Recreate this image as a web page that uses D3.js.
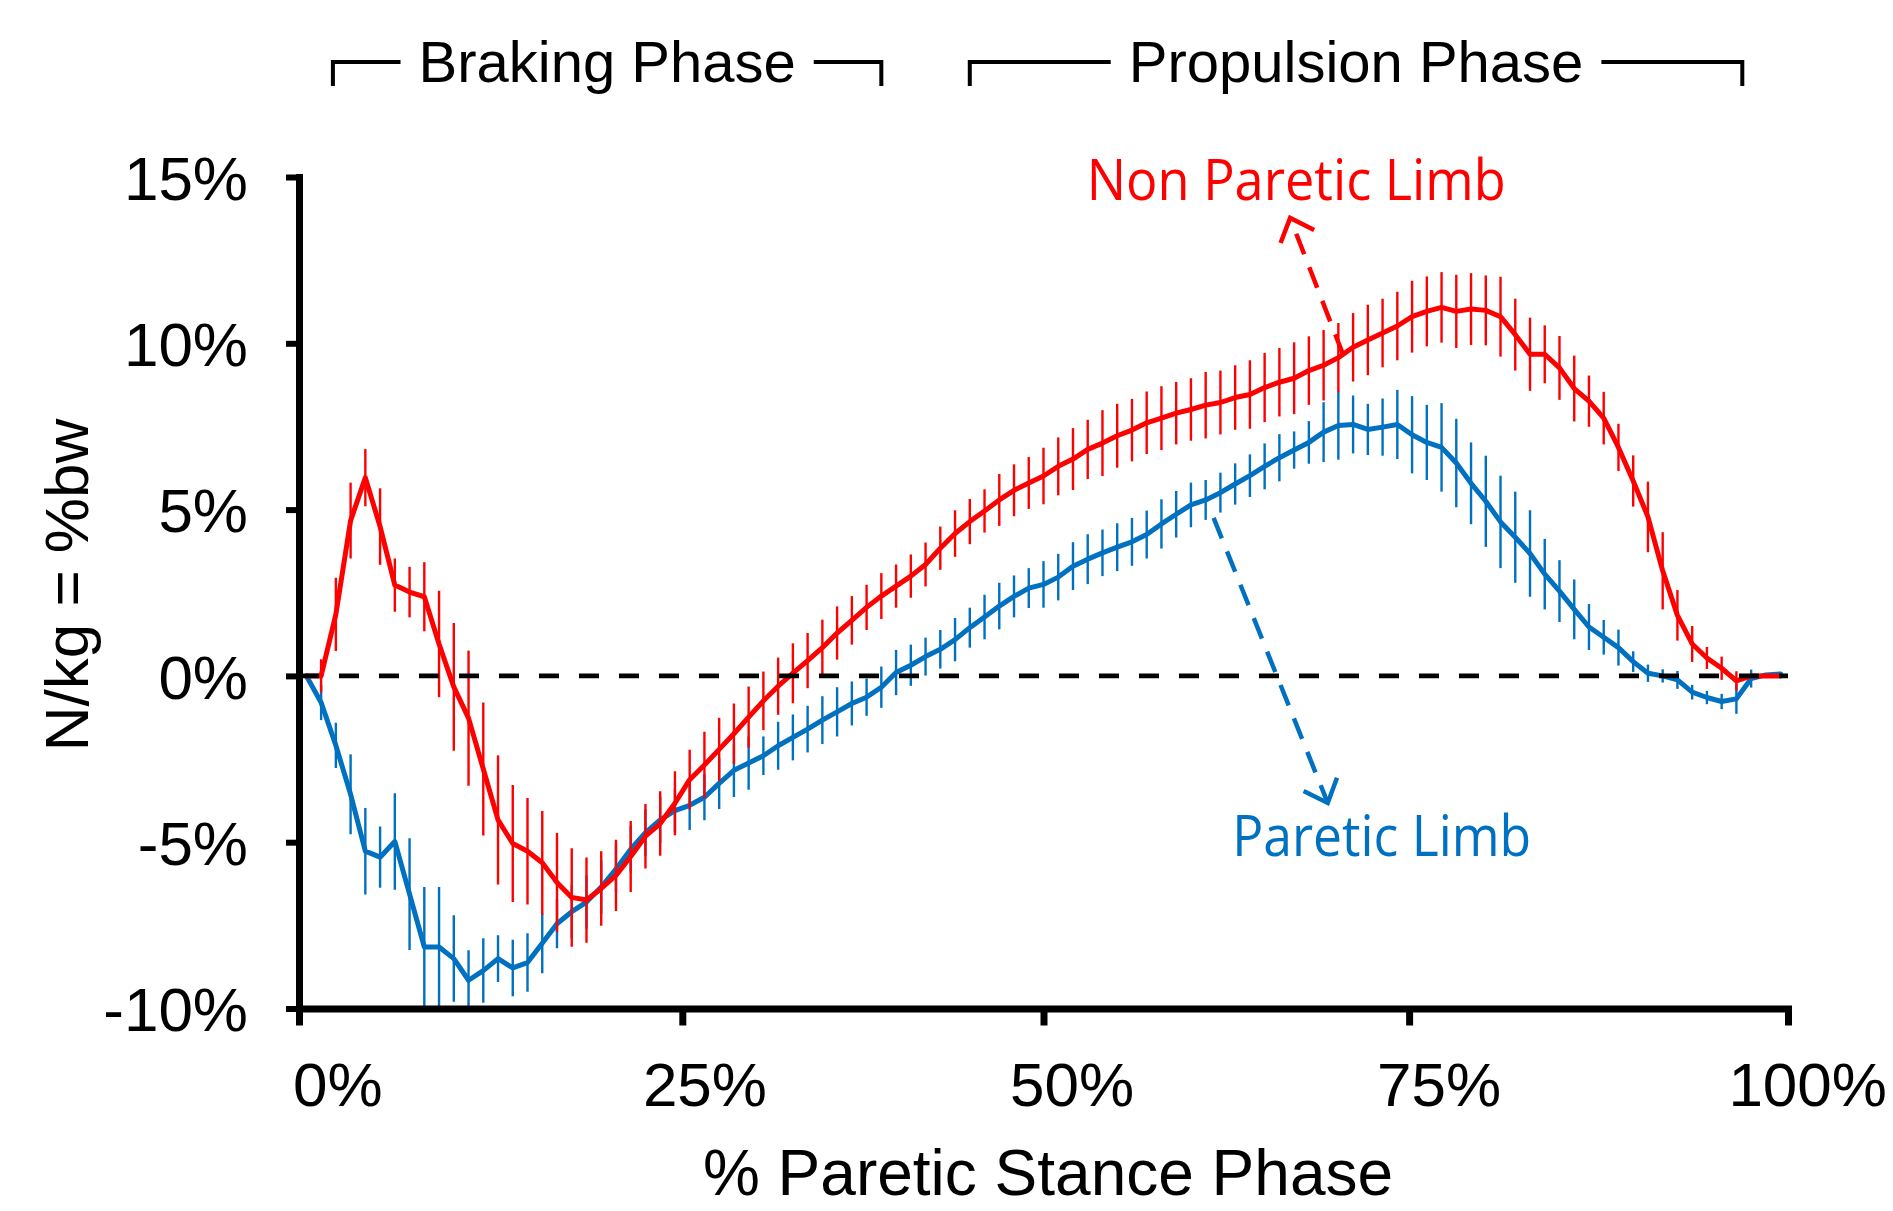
<!DOCTYPE html>
<meta charset="utf-8">
<head>
  <title>Anterior-posterior ground reaction force</title>
</head>

<style>
body {
  margin: 0;
  background: #fff;
}
svg text {
  font-family: "Liberation Sans", Arial, Helvetica, sans-serif;
}
</style>

<body>
  <svg id="chart" width="1893" height="1211"></svg>

  <script src="https://cdnjs.cloudflare.com/ajax/libs/d3/7.8.5/d3.min.js"></script>

  <script>
// DATA (% of paretic stance phase, N/kg = %bw)
var stance = d3.range(0, 101);

var nonParetic = [
  0, 0, 1.85, 4.67, 5.96, 4.49, 2.73, 2.52, 2.38, 0.96,
  -0.33, -1.27, -2.8, -4.33, -5.04, -5.27, -5.62, -6.21, -6.66, -6.74,
  -6.39, -6.0, -5.43, -4.82, -4.44, -3.83, -3.12, -2.68, -2.21, -1.74,
  -1.24, -0.75, -0.31, 0.08, 0.46, 0.85, 1.29, 1.67, 2.06, 2.4,
  2.7, 3.0, 3.35, 3.84, 4.28, 4.64, 4.96, 5.29, 5.58, 5.8,
  6.01, 6.3, 6.52, 6.81, 7.0, 7.22, 7.39, 7.61, 7.75, 7.9,
  8.01, 8.14, 8.22, 8.37, 8.46, 8.67, 8.83, 8.95, 9.18, 9.34,
  9.57, 9.88, 10.1, 10.31, 10.52, 10.8, 10.96, 11.08, 10.96, 11.03,
  10.99, 10.8, 10.26, 9.67, 9.67, 9.26, 8.64, 8.26, 7.75, 6.87,
  5.86, 4.78, 3.16, 1.82, 0.96, 0.54, 0.23, -0.15, 0, 0,
  0
];

var nonPareticSD = [
  0, 0.5, 1.1, 1.14, 0.86, 1.15, 0.8, 0.76, 1.04, 1.6,
  1.92, 2.03, 2.0, 1.94, 1.76, 1.6, 1.56, 1.49, 1.48, 1.28,
  1.12, 1.07, 1.07, 0.97, 0.97, 0.96, 0.9, 1.0, 0.95, 0.91,
  0.92, 0.88, 0.86, 0.9, 0.83, 0.84, 0.8, 0.73, 0.68, 0.69,
  0.65, 0.65, 0.66, 0.65, 0.7, 0.68, 0.65, 0.78, 0.78, 0.78,
  0.85, 0.87, 0.93, 0.89, 0.99, 0.96, 0.94, 0.94, 0.96, 0.94,
  0.94, 1.0, 0.96, 0.97, 1.03, 1.04, 1.03, 1.08, 1.03, 1.06,
  1.04, 1.03, 1.06, 1.03, 1.03, 1.08, 1.05, 1.06, 1.1, 1.08,
  1.05, 1.2, 1.08, 1.1, 0.87, 0.96, 0.99, 0.77, 0.79, 0.71,
  0.77, 1.06, 1.16, 0.76, 0.54, 0.33, 0.35, 0.29, 0, 0,
  0
];

var paretic = [
  0, -0.8, -2.09, -3.56, -5.27, -5.45, -4.98, -6.56, -8.15, -8.15,
  -8.5, -9.15, -8.86, -8.5, -8.78, -8.62, -8.04, -7.45, -7.09, -6.8,
  -6.35, -5.81, -5.21, -4.71, -4.33, -4.05, -3.89, -3.65, -3.23, -2.84,
  -2.62, -2.4, -2.1, -1.85, -1.6, -1.33, -1.08, -0.83, -0.64, -0.34,
  0.1, 0.32, 0.58, 0.8, 1.09, 1.45, 1.77, 2.1, 2.39, 2.64,
  2.75, 2.97, 3.3, 3.51, 3.7, 3.87, 4.03, 4.25, 4.57, 4.86,
  5.14, 5.29, 5.51, 5.77, 6.02, 6.3, 6.56, 6.79, 7.02, 7.33,
  7.53, 7.56, 7.41, 7.48, 7.56, 7.25, 7.02, 6.87, 6.4, 5.79,
  5.25, 4.63, 4.17, 3.68, 3.06, 2.55, 2.0, 1.47, 1.16, 0.85,
  0.43, 0.08, 0.0, -0.12, -0.49, -0.65, -0.77, -0.69, -0.08, 0.03,
  0.06
];

var pareticSD = [
  0, 0.53, 0.68, 1.2, 1.3, 0.92, 1.45, 1.68, 1.8, 1.8,
  1.3, 0.9, 0.97, 0.7, 0.85, 0.88, 0.9, 0.74, 0.8, 0.8,
  0.8, 0.7, 0.7, 0.7, 0.7, 0.66, 0.74, 0.69, 0.77, 0.8,
  0.8, 0.58, 0.72, 0.69, 0.7, 0.72, 0.74, 0.66, 0.56, 0.62,
  0.68, 0.62, 0.57, 0.58, 0.65, 0.6, 0.67, 0.7, 0.63, 0.6,
  0.7, 0.7, 0.72, 0.75, 0.7, 0.72, 0.72, 0.72, 0.74, 0.7,
  0.67, 0.6, 0.6, 0.62, 0.64, 0.69, 0.71, 0.56, 0.64, 0.9,
  1.03, 0.87, 0.77, 0.86, 1.04, 1.16, 1.13, 1.33, 1.33, 1.23,
  1.37, 1.39, 1.37, 1.3, 1.06, 0.93, 0.9, 0.69, 0.52, 0.54,
  0.31, 0.26, 0.2, 0.27, 0.22, 0.2, 0.23, 0.45, 0.27, 0,
  0
];

var yTicks = [-10, -5, 0, 5, 10, 15];
var xTickAt = [-0.5, 25.5, 50, 74.8, 100.5];
var xLabelAt = [2.1, 27, 51.9, 76.8, 101.8];
var xTickLabels = ['0%', '25%', '50%', '75%', '100%'];

var phaseNames = ['Braking Phase', 'Propulsion Phase'];
var phaseStart = [1.8, 45.0];
var phaseEnd = [39.0, 97.4];

var labelText = ['Non Paretic Limb', 'Paretic Limb'];
var labelX = [67.14, 72.94];
var labelY = [14.31, -5.41];
var labelWidth = [419, 299];
var arrowFrom = [[70.33, 9.65], [61.54, 4.75]];
var arrowTo = [[66.73, 13.77], [69.28, -3.82]];

var RED = '#ff0000';
var BLUE = '#0070c0';

// SCALES
var x = d3.scaleLinear().domain([-0.5, 100.5]).range([299, 1788]);
var y = d3.scaleLinear().domain([-10, 15]).range([1008.5, 177]);

var svg = d3.select('#chart');

svg.append('rect')
  .attr('width', 1893)
  .attr('height', 1211)
  .attr('fill', '#fff');

var defs = svg.append('defs');

defs.append('clipPath')
  .attr('id', 'plot-clip')
  .append('rect')
  .attr('x', x(-0.5))
  .attr('y', y(15))
  .attr('width', x(100.5) - x(-0.5))
  .attr('height', y(-10) - y(15));

[RED, BLUE].forEach(function(c, i) {
  defs.append('marker')
    .attr('id', 'chevron' + i)
    .attr('markerUnits', 'userSpaceOnUse')
    .attr('viewBox', '-30 -30 40 60')
    .attr('markerWidth', 40)
    .attr('markerHeight', 60)
    .attr('refX', 0)
    .attr('refY', 0)
    .attr('orient', 'auto')
    .append('path')
    .attr('d', 'M-20,-18L0,0L-20,18')
    .attr('fill', 'none')
    .attr('stroke', c)
    .attr('stroke-width', 4.5)
    .attr('stroke-linejoin', 'miter');
});

var plot = svg.append('g').attr('clip-path', 'url(#plot-clip)');

var line = d3.line()
  .x(function(d) { return x(d[0]); })
  .y(function(d) { return y(d[1]); });

function drawSeries(values, sd, colour) {
  var pts = stance.map(function(s, i) { return [s, values[i], sd[i]]; });

  plot.append('g')
    .selectAll('line')
    .data(pts.filter(function(d) { return d[2] > 0; }))
    .enter()
    .append('line')
    .attr('x1', function(d) { return x(d[0]); })
    .attr('x2', function(d) { return x(d[0]); })
    .attr('y1', function(d) { return y(d[1] + d[2]); })
    .attr('y2', function(d) { return y(d[1] - d[2]); })
    .attr('stroke', colour)
    .attr('stroke-width', 2.4);

  plot.append('path')
    .datum(pts)
    .attr('d', line)
    .attr('fill', 'none')
    .attr('stroke', colour)
    .attr('stroke-width', 5)
    .attr('stroke-linejoin', 'round')
    .attr('stroke-linecap', 'round');
}

drawSeries(paretic, pareticSD, BLUE);
drawSeries(nonParetic, nonPareticSD, RED);

// zero reference line (drawn over the series, as in the original)
svg.append('line')
  .attr('x1', x(-0.5))
  .attr('x2', x(100.5))
  .attr('y1', y(0))
  .attr('y2', y(0))
  .attr('stroke', '#000')
  .attr('stroke-width', 4.7)
  .attr('stroke-dasharray', '20,20');

// AXES
var yAxis = svg.append('g')
  .attr('transform', 'translate(' + x(-0.5) + ',0)')
  .call(d3.axisLeft(y)
    .tickValues(yTicks)
    .tickSize(13)
    .tickSizeOuter(0)
    .tickFormat(function(d) { return d + '%'; }));

yAxis.attr('font-size', 62).attr('font-family', null);
yAxis.select('.domain').attr('stroke-width', 7).attr('stroke-linecap', 'square');
yAxis.selectAll('.tick line').attr('stroke-width', 6);
yAxis.selectAll('.tick text').attr('x', -51).attr('dy', '0.36em').attr('fill', '#000');

var xAxis = svg.append('g')
  .attr('transform', 'translate(0,' + y(-10) + ')')
  .call(d3.axisBottom(x)
    .tickValues(xTickAt)
    .tickSize(17)
    .tickSizeOuter(0)
    .tickFormat(function(d, i) { return xTickLabels[i]; }));

xAxis.attr('font-size', 62).attr('font-family', null);
xAxis.select('.domain').attr('stroke-width', 7).attr('stroke-linecap', 'square');
xAxis.selectAll('.tick line').attr('stroke-width', 7);
xAxis.selectAll('.tick text')
  .attr('x', function(d, i) { return x(xLabelAt[i]) - x(d); })
  .attr('y', 97)
  .attr('dy', null)
  .attr('fill', '#000');

// axis titles
svg.append('text')
  .attr('x', 1048)
  .attr('y', 1195)
  .attr('text-anchor', 'middle')
  .attr('font-size', 64)
  .text('% Paretic Stance Phase');

svg.append('text')
  .attr('transform', 'translate(88,585) rotate(-90)')
  .attr('text-anchor', 'middle')
  .attr('font-size', 62)
  .text('N/kg = %bw');

// phase brackets
phaseNames.forEach(function(name, i) {
  var x1 = x(phaseStart[i]);
  var x2 = x(phaseEnd[i]);
  var cx = (x1 + x2) / 2;
  var t = svg.append('text')
    .attr('x', cx)
    .attr('y', 82)
    .attr('text-anchor', 'middle')
    .attr('font-size', 58)
    .text(name);
  var w = t.node().getComputedTextLength();
  var gap = 18;
  svg.append('path')
    .attr('d', 'M' + x1 + ',86V62H' + (cx - w / 2 - gap) +
               'M' + (cx + w / 2 + gap) + ',62H' + x2 + 'V86')
    .attr('fill', 'none')
    .attr('stroke', '#000')
    .attr('stroke-width', 4);
});

// series labels with dashed arrows
[RED, BLUE].forEach(function(c, i) {
  svg.append('line')
    .attr('x1', x(arrowFrom[i][0]))
    .attr('y1', y(arrowFrom[i][1]))
    .attr('x2', x(arrowTo[i][0]))
    .attr('y2', y(arrowTo[i][1]))
    .attr('stroke', c)
    .attr('stroke-width', 4.5)
    .attr('stroke-dasharray', '22,14')
    .attr('marker-end', 'url(#chevron' + i + ')');

  svg.append('text')
    .attr('x', x(labelX[i]))
    .attr('y', y(labelY[i]))
    .attr('text-anchor', 'middle')
    .attr('font-size', 56)
    .attr('fill', c)
    .style('font-family', '"Open Sans", "Noto Sans", sans-serif')
    .attr('textLength', labelWidth[i])
    .attr('lengthAdjust', 'spacingAndGlyphs')
    .text(labelText[i]);
});
  </script>
</body>
</html>
